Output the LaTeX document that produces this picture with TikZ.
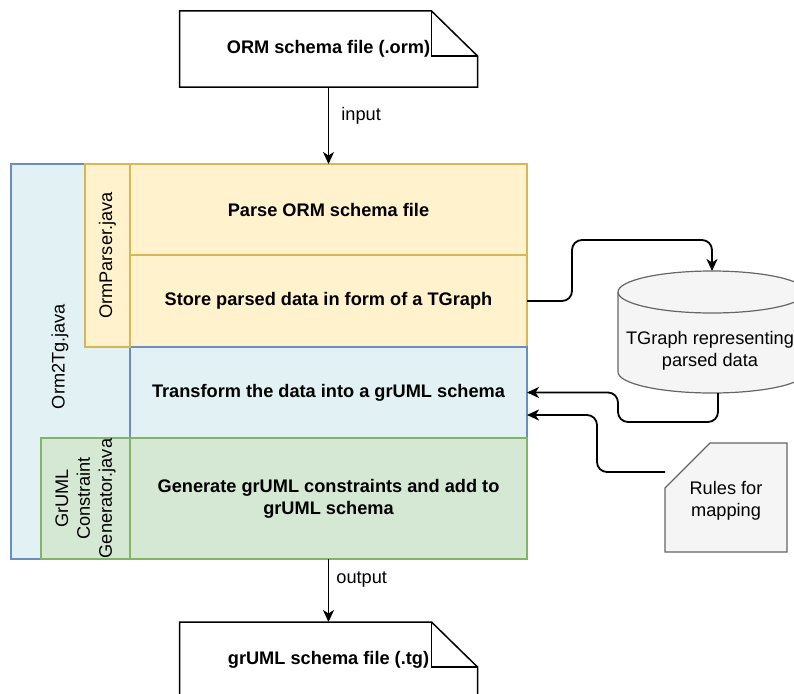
\documentclass[tikz,border=0pt]{standalone}
\usepackage{fontspec}
\setmainfont{Liberation Sans}
\usepackage{xcolor}
\usetikzlibrary{arrows.meta, positioning, backgrounds}

\definecolor{parsefill}{HTML}{FFF2CC}
\definecolor{parseline}{HTML}{D6B656}
\definecolor{tgfill}{RGB}{226,242,244}
\definecolor{tgline}{HTML}{6C8EBF}
\definecolor{genfill}{HTML}{D5E8D4}
\definecolor{genline}{HTML}{82B366}
\definecolor{datafill}{HTML}{F5F5F5}
\definecolor{dataline}{HTML}{666666}

\begin{document}
\begin{tikzpicture}[
  x=1pt, y=-1pt,
  every node/.style={font=\fontsize{18.2}{21.8}\selectfont},
  stage/.style={draw, line width=1.2pt, minimum width=397pt, inner sep=0pt,
    outer sep=0pt, align=center, font=\fontsize{18.2}{22}\selectfont\bfseries},
  module/.style={draw, line width=1.2pt, inner sep=0pt, outer sep=0pt},
  doc/.style={minimum width=298pt, minimum height=76pt, inner sep=0pt, outer sep=0pt,
    font=\fontsize{18.2}{21.8}\selectfont\bfseries},
  docline/.style={line width=1.5pt},
  arrow/.style={-{Stealth[length=12pt, width=11pt, inset=3.5pt]}, line width=1.8pt},
  flow/.style={arrow, rounded corners=10pt},
  label/.style={inner sep=0pt},
]
\useasboundingbox (0,0) rectangle (794,693);

% --- Orm2Tg.java wraps everything on the left
\node[module, fill=tgfill, draw=tgline, minimum width=516pt, minimum height=395pt,
  anchor=north west] (orm2tg) at (11,164) {};
\node[rotate=90] at ([xshift=49pt, yshift=5pt]orm2tg.west) {Orm2Tg.java};

% --- Processing stages (stacked)
\node[stage, fill=parsefill, draw=parseline, minimum height=91pt, anchor=north west]
  (parse) at (130,164) {Parse ORM schema file};
\node[stage, fill=parsefill, draw=parseline, minimum height=92pt, below=0pt of parse]
  (store) {Store parsed data in form of a TGraph};
\node[stage, fill=tgfill, draw=tgline, minimum height=91pt, below=0pt of store]
  (trans) {Transform the data into a grUML schema};
\node[stage, fill=genfill, draw=genline, minimum height=121pt, below=0pt of trans]
  (gen) {Generate grUML constraints and add to\\grUML schema};

% --- Java classes next to the stages
\node[module, fill=parsefill, draw=parseline, minimum width=45pt, minimum height=183pt,
  anchor=north east] (ormparser) at (parse.north west) {};
\node[rotate=90] at (ormparser) {OrmParser.java};

\node[module, fill=genfill, draw=genline, minimum width=89pt, minimum height=121pt,
  anchor=north east] (grumlgen) at (gen.north west) {};
\node[rotate=90, align=center] at (grumlgen) {GrUML\\Constraint\\Generator.java};

% --- Input and output files
\node[doc, above=77pt of parse] (inp) {ORM schema file (.orm)};
\node[doc, below=63pt of gen] (outp) {grUML schema file (.tg)};

\foreach \d in {inp, outp} {
  \draw[docline] (\d.south west) -- (\d.north west) -- ([xshift=-46pt]\d.north east)
    -- ([yshift=-45pt]\d.north east) -- (\d.south east) -- cycle;
  \draw[docline] ([xshift=-46pt]\d.north east) |- ([yshift=-45pt]\d.north east);
}

% --- TGraph store and mapping rules
\node[minimum width=188pt, minimum height=122pt, inner sep=0pt, outer sep=0pt]
  (db) at (712,332) {};
\node[align=center] at ([xshift=-2pt, yshift=-19pt]db.center)
  {TGraph representing\\parsed data};

\node[minimum width=122pt, minimum height=109pt, inner sep=0pt, outer sep=0pt]
  (rules) at (726,497.5) {};
\node[align=center] at ([yshift=-3pt]rules.center) {Rules for\\mapping};

\begin{scope}[on background layer]
  \filldraw[fill=datafill, draw=dataline, line width=1.2pt]
    ([yshift=-21pt]db.north west) -- ([yshift=21pt]db.south west)
    arc[start angle=180, end angle=360, x radius=94pt, y radius=21pt]
    -- ([yshift=-21pt]db.north east)
    arc[start angle=0, end angle=180, x radius=94pt, y radius=21pt] -- cycle;
  \draw[draw=dataline, line width=1.2pt] ([yshift=-21pt]db.north west)
    arc[start angle=180, end angle=360, x radius=94pt, y radius=21pt];

  \filldraw[fill=datafill, draw=dataline, line width=1.2pt]
    ([yshift=-45pt]rules.north west) -- ([xshift=45pt]rules.north west)
    -- (rules.north east) -- (rules.south east) -- (rules.south west) -- cycle;
\end{scope}

\coordinate (rulesout) at ([yshift=25.5pt]rules.west);

% --- Arrows
\draw[arrow] (inp.south) -- node[label, pos=0.38, right=12pt] {input} (parse.north);
\draw[arrow] (gen.south) -- node[label, pos=0.33, right=7pt] {output} (outp.north);

\draw[flow] (store.east) -- ++(45,0) |- ([yshift=31pt]db.north) -- (db.north);
\draw[flow] ([xshift=6pt]db.south) -- ++(0,29) -| ([xshift=91pt]trans.east)
  -- (trans.east);
\draw[flow] (rulesout) -| ([xshift=70pt, yshift=-22.5pt]trans.east)
  -- ([yshift=-22.5pt]trans.east);

\end{tikzpicture}
\end{document}
